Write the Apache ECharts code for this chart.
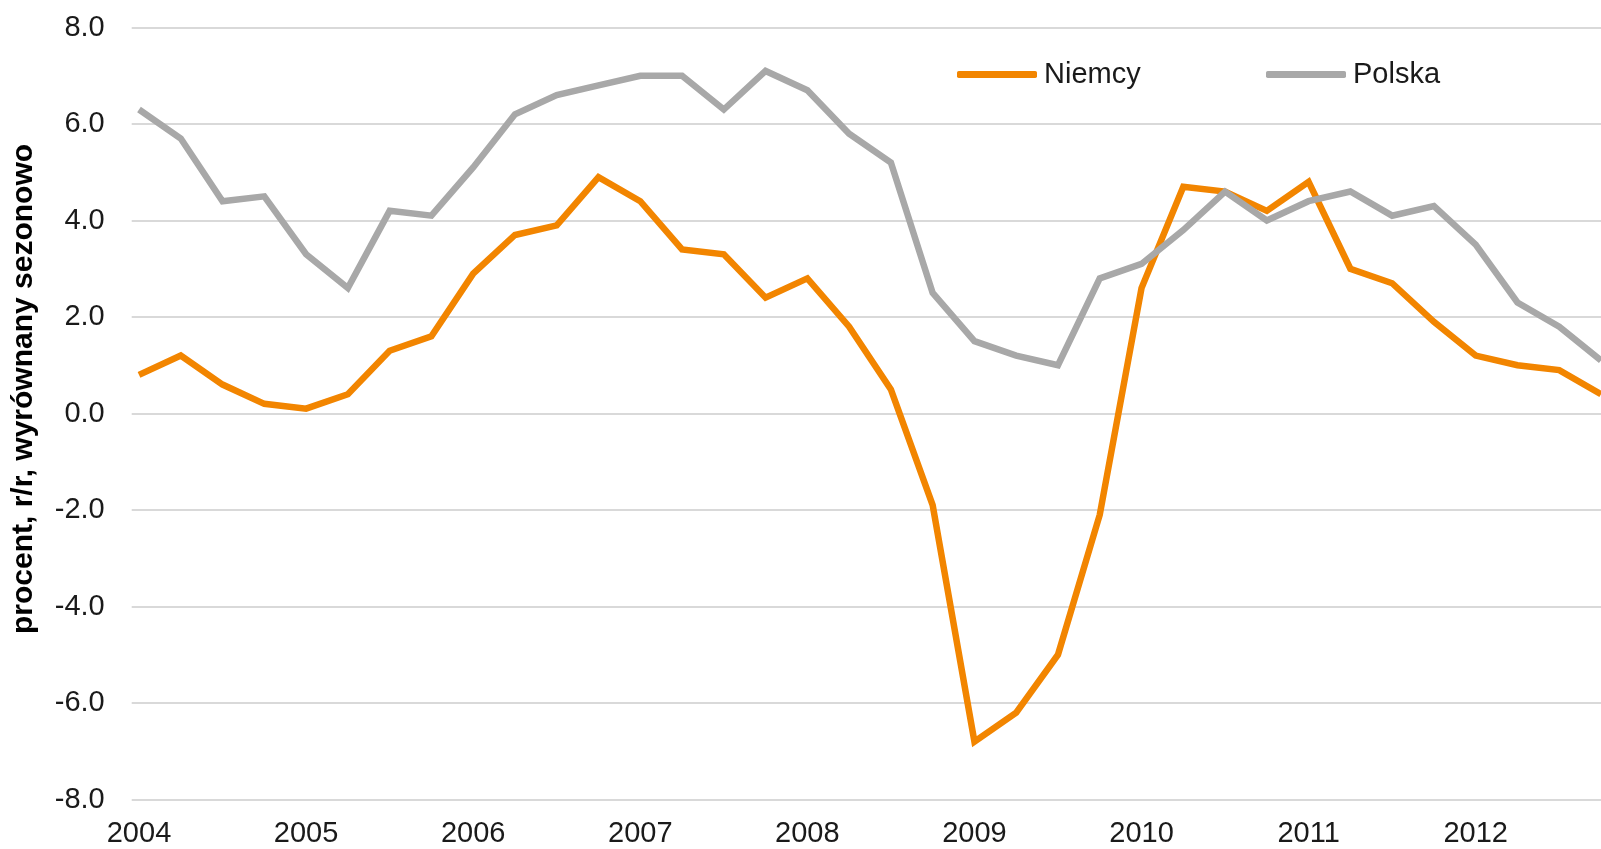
<!DOCTYPE html>
<html>
<head>
<meta charset="utf-8">
<script src="https://cdn.jsdelivr.net/npm/echarts@6/dist/echarts.min.js"></script>
<style>
  html, body { margin: 0; padding: 0; background: #fff; }
  #chart { width: 1601px; height: 849px; }
</style>
</head>
<body>
<div id="chart"></div>
<script>
// kwartaly 2004Q1 - 2012Q4
var quarters = [
    "2004Q1", "2004Q2", "2004Q3", "2004Q4",
    "2005Q1", "2005Q2", "2005Q3", "2005Q4",
    "2006Q1", "2006Q2", "2006Q3", "2006Q4",
    "2007Q1", "2007Q2", "2007Q3", "2007Q4",
    "2008Q1", "2008Q2", "2008Q3", "2008Q4",
    "2009Q1", "2009Q2", "2009Q3", "2009Q4",
    "2010Q1", "2010Q2", "2010Q3", "2010Q4",
    "2011Q1", "2011Q2", "2011Q3", "2011Q4",
    "2012Q1", "2012Q2", "2012Q3", "2012Q4"
];

var niemcy = [
    0.8, 1.2, 0.6, 0.2,
    0.1, 0.4, 1.3, 1.6,
    2.9, 3.7, 3.9, 4.9,
    4.4, 3.4, 3.3, 2.4,
    2.8, 1.8, 0.5, -1.9,
    -6.8, -6.2, -5.0, -2.1,
    2.6, 4.7, 4.6, 4.2,
    4.8, 3.0, 2.7, 1.9,
    1.2, 1.0, 0.9, 0.4
];

var polska = [
    6.3, 5.7, 4.4, 4.5,
    3.3, 2.6, 4.2, 4.1,
    5.1, 6.2, 6.6, 6.8,
    7.0, 7.0, 6.3, 7.1,
    6.7, 5.8, 5.2, 2.5,
    1.5, 1.2, 1.0, 2.8,
    3.1, 3.8, 4.6, 4.0,
    4.4, 4.6, 4.1, 4.3,
    3.5, 2.3, 1.8, 1.1
];

var yTicks = { min: -8, max: 8, step: 2 };
var yTitle = "procent, r/r, wyrównany sezonowo";

var FONT = "'Liberation Sans', Arial, sans-serif";
var ORANGE = "#f28500";
var GREY = "#a8a8a8";

var chart = echarts.init(document.getElementById("chart"));

function legendFor(name, left) {
    return {
        data: [name],
        left: left, top: 60, padding: 0,
        icon: "roundRect", itemWidth: 80, itemHeight: 7, itemGap: 0,
        textStyle: { fontFamily: FONT, fontSize: 29, color: "#1a1a1a", padding: [0, 0, 0, 2] }
    };
}

var option = {
    animation: false,
    backgroundColor: "#fff",
    grid: [
        // siatka z etykietami osi Y
        { left: 131.7, right: 0, top: 27.5, bottom: 49.5 },
        // dane
        { left: 139, right: -6, top: 27.5, bottom: 49.5 }
    ],
    legend: [legendFor("Niemcy", 957), legendFor("Polska", 1266)],
    graphic: [{
        type: "text",
        x: 24, y: 389,
        rotation: Math.PI / 2,
        style: {
            text: yTitle,
            align: "center", verticalAlign: "middle",
            font: "bold 30px " + FONT,
            fill: "#000"
        }
    }],
    xAxis: [
        { type: "category", gridIndex: 0, data: quarters, boundaryGap: false, show: false },
        {
            type: "category", gridIndex: 1, data: quarters, boundaryGap: false,
            axisLine: { show: false },
            axisTick: { show: false },
            axisLabel: {
                interval: 3, margin: 20,
                fontFamily: FONT, fontSize: 29, color: "#1a1a1a",
                formatter: function (v) { return v.substring(0, 4); }
            },
            splitLine: { show: false }
        }
    ],
    yAxis: [
        {
            type: "value", gridIndex: 0,
            min: yTicks.min, max: yTicks.max, interval: yTicks.step,
            axisLine: { show: false },
            axisTick: { show: false },
            axisLabel: {
                margin: 27,
                fontFamily: FONT, fontSize: 29, color: "#1a1a1a",
                formatter: function (v) { return v.toFixed(1); }
            },
            splitLine: { lineStyle: { color: "#cccccc", width: 1.5 } }
        },
        {
            type: "value", gridIndex: 1,
            min: yTicks.min, max: yTicks.max, interval: yTicks.step,
            show: false, splitLine: { show: false }
        }
    ],
    series: [
        {
            name: "Niemcy", type: "line",
            xAxisIndex: 1, yAxisIndex: 1,
            data: niemcy,
            showSymbol: false, symbol: "none",
            lineStyle: { color: ORANGE, width: 6.5, join: "miter" },
            itemStyle: { color: ORANGE }
        },
        {
            name: "Polska", type: "line",
            xAxisIndex: 1, yAxisIndex: 1,
            data: polska,
            showSymbol: false, symbol: "none",
            lineStyle: { color: GREY, width: 6.5, join: "miter" },
            itemStyle: { color: GREY }
        }
    ]
};

chart.setOption(option);
</script>
</body>
</html>
